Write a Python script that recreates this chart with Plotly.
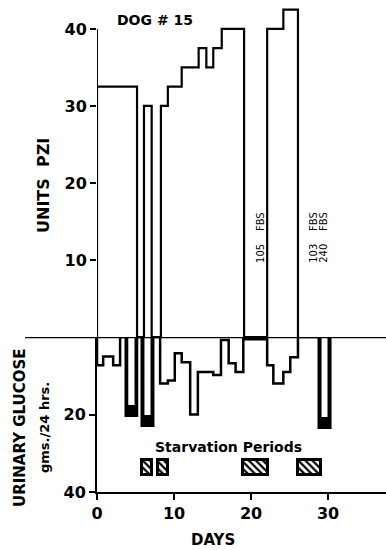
import plotly.graph_objects as go

# ---- data ----
insulin_days = [0, 5.2, 6.1, 7.1, 8.3, 9.2, 11.0, 13.2, 14.2, 15.1, 16.2, 19.1, 22.1, 24.2, 26.1]
insulin_units = [32.5, 0, 30, 0, 30, 32.5, 35, 37.5, 35, 37.5, 40, 0, 40, 42.5, 0]

glucose_days = [0, 0.8, 2.1, 3.0, 3.9, 5.2, 6.0, 7.3, 8.2, 9.2, 10.1, 11.0, 12.1, 13.1,
                15.1, 16.1, 17.1, 18.0, 19.0, 22.1, 22.9, 24.2, 25.1, 26.1, 29.0, 30.3]
glucose_gms = [7.3, 5, 7.3, 0, 20.3, 0, 22.9, 0, 12, 11.2, 4.2, 6.5, 20, 9.0,
               9.8, 0.8, 6.8, 9.0, 0.6, 7.3, 12, 9.0, 5.2, 0, 23.4, 0]

dark_start = [3.9, 6.0, 29.0]
dark_end = [5.2, 7.3, 30.3]
dark_depth = [20.3, 22.9, 23.4]

starv_start = [5.9, 7.9, 19.0, 26.1]
starv_end = [7.1, 9.2, 22.2, 29.1]
starv_top = 31.7
starv_bottom = 35.6

upper_ticks = [10, 20, 30, 40]
lower_ticks = [20, 40]
day_ticks = [0, 10, 20, 30]

FONT = "DejaVu Sans"

fig = go.Figure()

# insulin step line
fig.add_trace(go.Scatter(
    x=[insulin_days[0]] + insulin_days, y=[0] + insulin_units,
    mode="lines", line=dict(shape="hv", color="black", width=2.2),
    xaxis="x", yaxis="y", hoverinfo="skip"))

# glucose dark bars
mid = [(s + e) / 2 for s, e in zip(dark_start, dark_end)]
wid = [e - s for s, e in zip(dark_start, dark_end)]
fig.add_trace(go.Bar(
    x=mid, width=wid, y=dark_depth, base=[0] * len(dark_depth),
    marker=dict(color="white", line=dict(color="black", width=3.5)),
    xaxis="x", yaxis="y2", hoverinfo="skip"))
fig.add_trace(go.Bar(
    x=mid, width=wid, y=[2.5] * len(dark_depth), base=[d - 2.5 for d in dark_depth],
    marker=dict(color="black", line=dict(color="black", width=1)),
    xaxis="x", yaxis="y2", hoverinfo="skip"))

# glucose step line
fig.add_trace(go.Scatter(
    x=[glucose_days[0]] + glucose_days, y=[0] + glucose_gms,
    mode="lines", line=dict(shape="hv", color="black", width=2.5),
    xaxis="x", yaxis="y2", hoverinfo="skip"))

# starvation periods
fig.add_trace(go.Bar(
    x=[(s + e) / 2 for s, e in zip(starv_start, starv_end)],
    width=[e - s for s, e in zip(starv_start, starv_end)],
    y=[starv_bottom - starv_top] * len(starv_start),
    base=[starv_top] * len(starv_start),
    marker=dict(color="white", line=dict(color="black", width=3),
                pattern=dict(shape="\\", fgcolor="black", bgcolor="white",
                             size=5, solidity=0.45)),
    xaxis="x", yaxis="y2", hoverinfo="skip"))

W, H = 386, 550
x0px, pxday = 97, 7.7
xmax = (W - x0px) / pxday

tf = dict(family=FONT, size=16, color="black", weight="bold")
fig.update_layout(
    template="none",
    width=W, height=H, margin=dict(l=0, r=0, t=0, b=0, pad=0),
    paper_bgcolor="white", plot_bgcolor="white",
    showlegend=False, barmode="overlay", bargap=0,
    xaxis=dict(domain=[x0px / W, 1], range=[0, xmax], anchor="y2", automargin=False,
               tickvals=day_ticks, ticks="outside", ticklen=6, tickwidth=2, tickcolor="black",
               showline=True, linewidth=2, linecolor="black",
               showgrid=False, zeroline=False, tickfont=tf),
    yaxis=dict(domain=[(H - 337) / H, (H - 2) / H], range=[0, 43.5], anchor="x",
               automargin=False,
               tickvals=upper_ticks, ticks="outside", ticklen=6, tickwidth=2, tickcolor="black",
               showline=False, showgrid=False, zeroline=False, tickfont=tf),
    yaxis2=dict(domain=[(H - 492) / H, (H - 337) / H], range=[40, 0], anchor="x",
                automargin=False,
                tickvals=lower_ticks, ticks="outside", ticklen=6, tickwidth=2, tickcolor="black",
                showline=True, linewidth=2, linecolor="black",
                showgrid=False, zeroline=False, tickfont=tf),
)

# axis line of upper panel and zero line
fig.add_shape(type="line", xref="x", yref="y", x0=0, x1=0, y0=0, y1=40,
              line=dict(color="black", width=2))
fig.add_shape(type="line", xref="paper", yref="y2", x0=25 / W, x1=1, y0=0, y1=0,
              line=dict(color="black", width=2.5))

def px(xp, yp):
    return xp / W, (H - yp) / H

def ann(text, xp, yp, size, angle=0, weight="bold"):
    ax, ay = px(xp, yp)
    fig.add_annotation(text=text, x=ax, y=ay, xref="paper", yref="paper",
                       showarrow=False, textangle=angle,
                       xanchor="center", yanchor="middle",
                       font=dict(family=FONT, size=size, color="black", weight=weight))

ann("DOG # 15", 155, 20, 14)
ann("UNITS  PZI", 44, 186, 16, -90)
ann("URINARY GLUCOSE", 20, 428, 15, -90)
ann("gms./24 hrs.", 44, 428, 13, -90)
ann("Starvation Periods", 228, 447, 14)
ann("DAYS", 213, 540, 15)

# FBS notes (in data coordinates)
for text, d in [("105    FBS", 21.2), ("103    FBS", 28.2), ("240    FBS", 29.5)]:
    fig.add_annotation(text=text, x=d, y=12.9, xref="x", yref="y", showarrow=False,
                       textangle=-90, font=dict(family=FONT, size=10, color="black"))

fig.write_html("out.html",
               post_script="document.body.style.margin='0';document.body.style.overflow='hidden';")
